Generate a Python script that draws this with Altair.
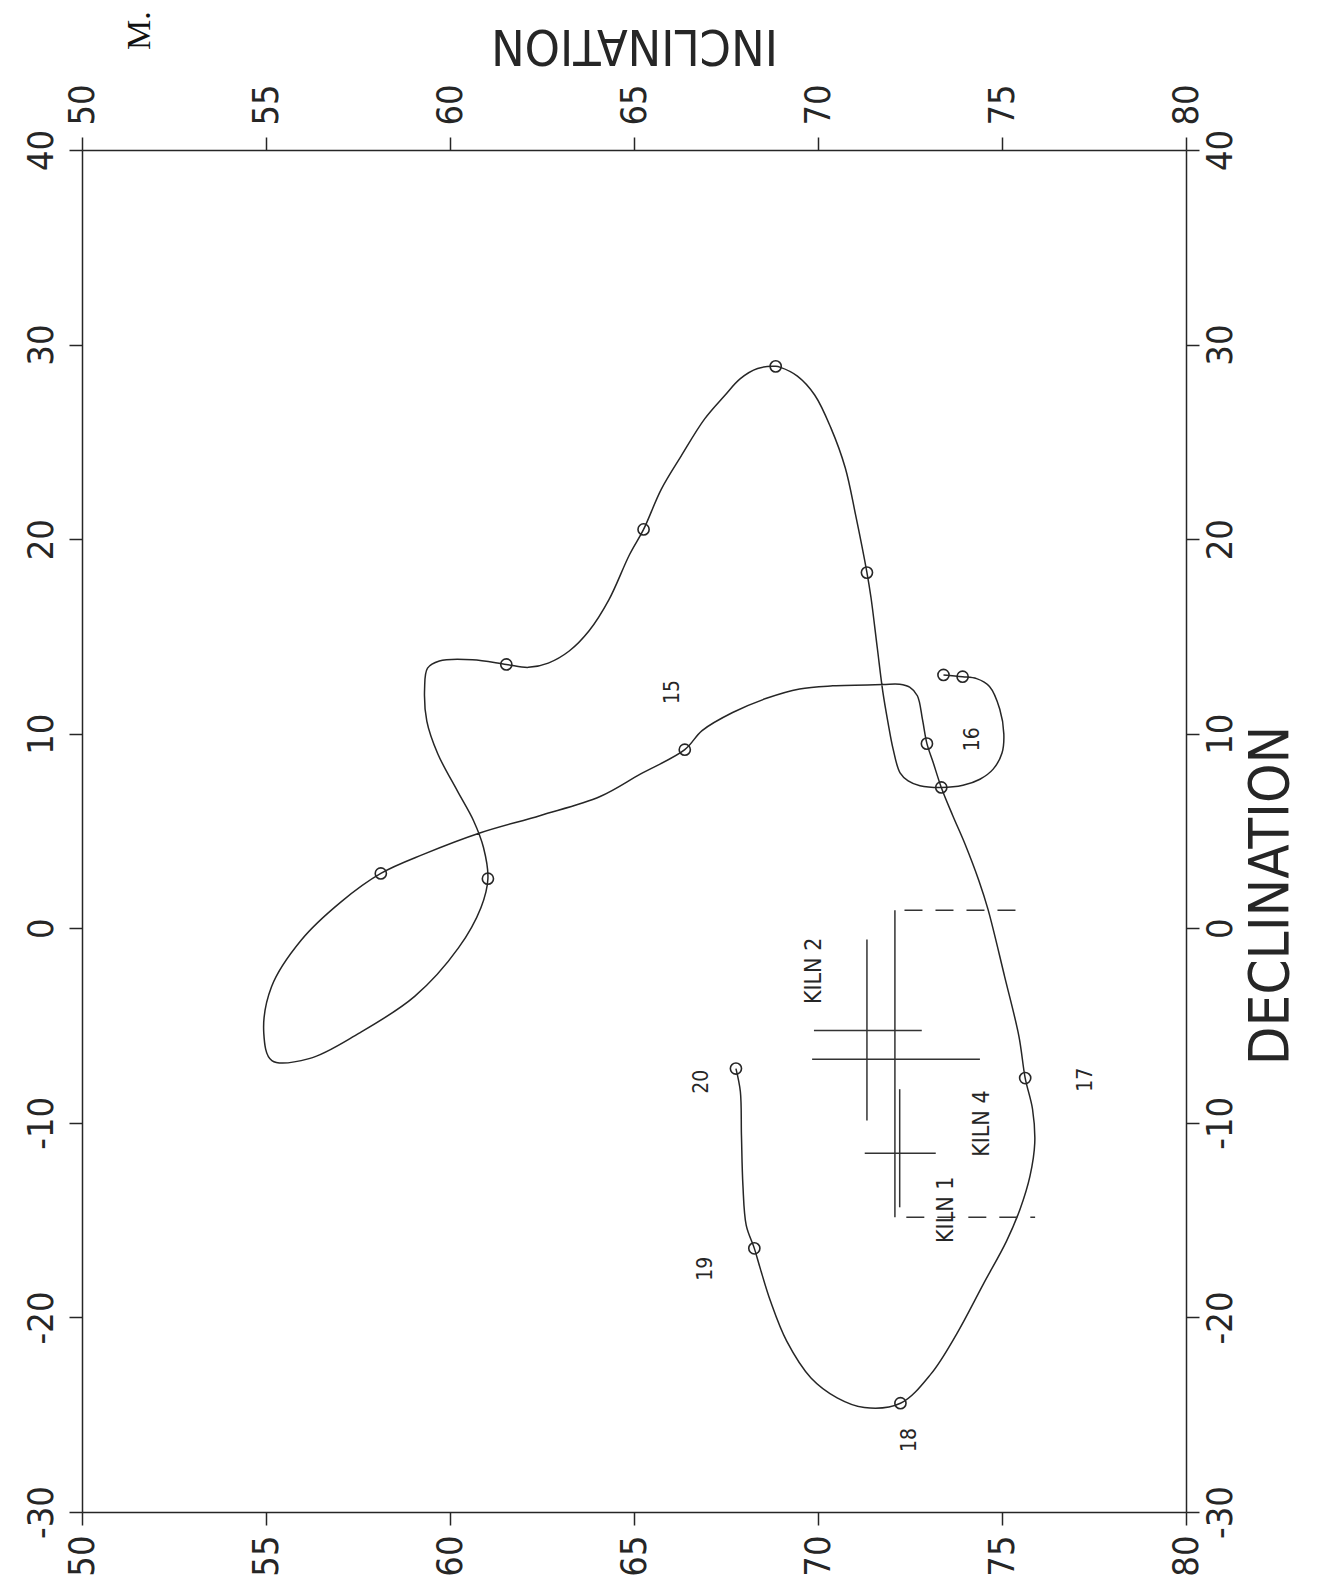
import altair as alt
import pandas as pd

# ---- data ----
curve_inc = [73.41, 73.93, 74.31, 74.66, 74.94, 75.05, 75.00, 74.76, 74.40, 73.94,
             73.35, 72.77, 72.45, 72.23, 72.04, 71.90, 71.76, 71.61, 71.44, 71.33,
             71.02, 70.74, 70.35, 69.91, 69.44, 68.98, 68.85, 68.36, 67.89, 67.46,
             66.92, 66.28, 65.74, 65.26, 64.88, 64.32, 63.78, 63.24, 62.67, 62.13,
             61.53, 60.61, 59.71, 59.39, 59.31, 59.37, 59.67, 60.20, 60.64, 60.91,
             61.03, 60.84, 60.23, 59.04, 57.52, 56.17, 55.16, 54.94, 55.15, 55.96,
             57.04, 58.12, 59.29, 60.83, 62.46, 64.08, 65.17, 66.38, 66.85, 67.68,
             68.60, 69.50, 70.40, 71.76, 72.22, 72.49, 72.70, 72.84, 72.96, 73.13,
             73.35, 73.66, 74.00, 74.37, 74.62, 75.07, 75.46, 75.63, 75.83, 75.89,
             75.76, 75.49, 75.12, 74.50, 73.77, 73.07, 72.24, 71.26, 70.52, 69.81,
             69.15, 68.71, 68.43, 68.27, 68.05, 67.96, 67.92, 67.89, 67.77]
curve_dec = [13.02, 12.93, 12.83, 12.43, 11.26, 9.98, 9.01, 8.18, 7.66, 7.35,
             7.24, 7.33, 7.58, 7.99, 9.22, 10.6, 12.18, 14.43, 17.0, 18.28,
             21.26, 23.67, 25.72, 27.41, 28.38, 28.83, 28.88, 28.77, 28.25, 27.37,
             26.18, 24.27, 22.56, 20.5, 19.21, 16.89, 15.29, 14.25, 13.63, 13.41,
             13.56, 13.8, 13.74, 13.37, 12.34, 10.65, 8.96, 7.06, 5.53, 4.15,
             2.55, 1.06, -1.01, -3.5, -5.4, -6.7, -6.8, -5.4, -3.0, -0.6,
             1.36, 2.82, 3.81, 4.91, 5.8, 6.77, 7.92, 9.18, 10.16, 11.09,
             11.82, 12.3, 12.46, 12.53, 12.54, 12.39, 11.95, 10.72, 9.49, 8.52,
             7.24, 5.8, 4.31, 2.46, 0.97, -2.47, -5.55, -7.7, -9.3, -11.04,
             -12.74, -14.44, -16.09, -18.26, -20.84, -22.9, -24.41, -24.63, -24.13, -23.11,
             -21.22, -19.17, -17.48, -16.45, -15.27, -13.22, -10.65, -8.39, -7.21]

circle_inc = [73.41, 73.93, 73.35, 71.33, 68.85, 65.26, 61.53, 61.03, 58.12, 66.38,
              72.96, 75.63, 72.24, 68.27, 67.77]
circle_dec = [13.02, 12.93, 7.24, 18.28, 28.88, 20.5, 13.56, 2.55, 2.82, 9.18,
              9.49, -7.7, -24.41, -16.45, -7.21]

kiln_inc = [71.33, 72.09, 72.22]
kiln_dec = [-5.25, -6.73, -11.56]
kiln_inc_lo = [69.89, 69.84, 71.27]
kiln_inc_hi = [72.82, 74.40, 73.20]
kiln_dec_lo = [-9.88, -14.85, -14.34]
kiln_dec_hi = [-0.57, 0.93, -8.27]

dash_dec = [0.93, -14.85]
dash_inc_lo = [72.35, 72.40]
dash_inc_hi = [75.50, 75.90]

label_text = ["15", "16", "17", "18", "19", "20", "KILN 2", "KILN 4", "KILN 1"]
label_inc = [66.05, 74.21, 77.29, 72.49, 66.97, 66.85, 69.90, 74.47, 73.48]
label_dec = [12.14, 9.72, -7.78, -26.3, -17.5, -7.89, -2.19, -10.04, -14.47]
label_size = [21, 21, 21, 21, 21, 21, 23, 23, 23]

inc_ticks = [50, 55, 60, 65, 70, 75, 80]
dec_ticks = [-30, -20, -10, 0, 10, 20, 30, 40]

# ---- tables ----
curve_df = pd.DataFrame({"inc": curve_inc, "dec": curve_dec,
                         "order": list(range(len(curve_inc)))})
circle_df = pd.DataFrame({"inc": circle_inc, "dec": circle_dec})
kiln_df = pd.DataFrame({"inc": kiln_inc, "dec": kiln_dec,
                        "inc_lo": kiln_inc_lo, "inc_hi": kiln_inc_hi,
                        "dec_lo": kiln_dec_lo, "dec_hi": kiln_dec_hi})
dash_df = pd.DataFrame({"dec": dash_dec, "lo": dash_inc_lo, "hi": dash_inc_hi})
label_df = pd.DataFrame({"t": label_text, "inc": label_inc, "dec": label_dec,
                         "s": label_size})

FONT = "DejaVu Sans Condensed, Liberation Sans Narrow, DejaVu Sans, sans-serif"
INK = "#262626"

xs = alt.Scale(domain=[50, 80], nice=False, zero=False)
ys = alt.Scale(domain=[-30, 40], nice=False, zero=False)

common = dict(tickSize=13, tickWidth=1.5, tickColor=INK, domainColor=INK,
              domainWidth=1.5, labelFont=FONT, labelFontSize=36, labelColor=INK,
              labelAngle=270, labelFlush=False, labelOverlap=False, grid=False,
              labelExpr="datum.value + ''")

x_bottom = alt.Axis(orient="bottom", values=inc_ticks, labelAlign="right",
                    labelBaseline="middle", labelPadding=10, title=None, **common)
x_top = alt.Axis(orient="top", values=inc_ticks, labelAlign="left",
                 labelBaseline="middle", labelPadding=12, title="INCLINATION",
                 titleAngle=180, titleFont=FONT, titleFontSize=50,
                 titleFontWeight="normal", titleColor=INK, titleY=-106,
                 titleBaseline="middle", titleAlign="center", **common)
y_left = alt.Axis(orient="left", values=dec_ticks, labelAlign="center",
                  labelBaseline="bottom", labelPadding=9, title=None, **common)
y_right = alt.Axis(orient="right", values=dec_ticks, labelAlign="center",
                   labelBaseline="top", labelPadding=4, title="DECLINATION",
                   titleAngle=270, titleFont=FONT, titleFontSize=56,
                   titleFontWeight="normal", titleColor=INK, titleX=84,
                   titleY=745, titleBaseline="middle", titleAlign="center",
                   **common)

line = alt.Chart(curve_df).mark_line(
    interpolate="catmull-rom", color=INK, strokeWidth=1.5
).encode(
    x=alt.X("inc:Q", scale=xs, axis=x_bottom),
    y=alt.Y("dec:Q", scale=ys, axis=y_left),
    order="order:Q",
)

circles = alt.Chart(circle_df).mark_point(
    shape="circle", filled=False, size=125, color=INK, strokeWidth=1.6, opacity=1
).encode(
    x=alt.X("inc:Q", scale=xs, axis=x_top),
    y=alt.Y("dec:Q", scale=ys, axis=y_right),
)

kiln_h = alt.Chart(kiln_df).mark_rule(color="#333333", strokeWidth=1.5).encode(
    x=alt.X("inc_lo:Q", scale=xs, axis=None), x2="inc_hi:Q",
    y=alt.Y("dec:Q", scale=ys, axis=None),
)
kiln_v = alt.Chart(kiln_df).mark_rule(color="#333333", strokeWidth=1.5).encode(
    x=alt.X("inc:Q", scale=xs, axis=None),
    y=alt.Y("dec_lo:Q", scale=ys, axis=None), y2="dec_hi:Q",
)
dashes = alt.Chart(dash_df).mark_rule(
    color="#333333", strokeWidth=1.5, strokeDash=[18, 13]
).encode(
    x=alt.X("lo:Q", scale=xs, axis=None), x2="hi:Q",
    y=alt.Y("dec:Q", scale=ys, axis=None),
)
labels = alt.Chart(label_df).mark_text(
    angle=270, font=FONT, color=INK, align="center", baseline="middle"
).encode(
    x=alt.X("inc:Q", scale=xs, axis=None),
    y=alt.Y("dec:Q", scale=ys, axis=None),
    text="t:N",
    size=alt.Size("s:Q", scale=None, legend=None),
)
corner = alt.Chart(pd.DataFrame({"t": ["M."]})).mark_text(
    angle=270, font="Liberation Serif, DejaVu Serif, serif", fontSize=34,
    color="#111111", align="left", baseline="middle"
).encode(text="t:N", x=alt.value(58), y=alt.value(-100))

chart = alt.layer(line, circles, kiln_h, kiln_v, dashes, labels, corner).resolve_axis(
    x="independent", y="independent"
).properties(
    width=1104, height=1362,
    padding={"left": 74, "top": 142, "right": 135, "bottom": 70},
    autosize=alt.AutoSizeParams(type="none"),
    background="white",
).configure_view(stroke=None)

chart.save("out.html", embed_options={"renderer": "svg", "actions": False})
